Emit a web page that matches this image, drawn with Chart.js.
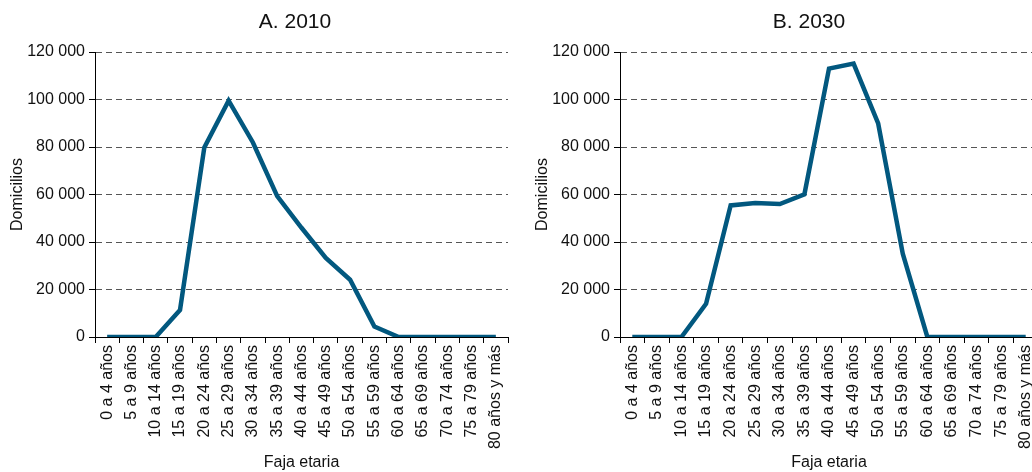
<!DOCTYPE html>
<html>
<head>
<meta charset="utf-8">
<script src="https://cdn.jsdelivr.net/npm/chart.js@4/dist/chart.umd.min.js"></script>
<style>
  html, body { margin: 0; padding: 0; background: #fff; overflow: hidden; }
  body { width: 1032px; height: 472px; position: relative; }
  .panel { position: absolute; top: 0; height: 472px; }
  #boxA { left: 0; width: 520px; }
  #boxB { left: 525px; width: 525px; }
</style>
</head>
<body>
<div class="panel" id="boxA"><canvas id="chartA"></canvas></div>
<div class="panel" id="boxB"><canvas id="chartB"></canvas></div>
<script>
// Data
const ageGroups = ['0 a 4 años', '5 a 9 años', '10 a 14 años', '15 a 19 años', '20 a 24 años',
    '25 a 29 años', '30 a 34 años', '35 a 39 años', '40 a 44 años', '45 a 49 años',
    '50 a 54 años', '55 a 59 años', '60 a 64 años', '65 a 69 años', '70 a 74 años',
    '75 a 79 años', '80 años y más'];
const homes2010 = [0, 0, 0, 11400, 79800, 99500, 81900, 59300, 46000, 33300, 24100, 4400, 0, 0, 0, 0, 0];
const homes2030 = [0, 0, 0, 14000, 55400, 56400, 56000, 60100, 113000, 115100, 89900, 35100, 0, 0, 0, 0, 0];
const yTicks = [0, 20000, 40000, 60000, 80000, 100000, 120000];
const titleA = 'A. 2010';
const titleB = 'B. 2030';

const FONT = 'Liberation Sans, Arial, sans-serif';
const LINE_COLOR = '#02587f';

Chart.defaults.font.family = FONT;
Chart.defaults.color = '#111';

// draws the panel title at a given x
const panelTitle = {
    id: 'panelTitle',
    afterDraw(chart, args, opts) {
        const ctx = chart.ctx;
        ctx.save();
        ctx.font = '21px ' + FONT;
        ctx.fillStyle = '#111';
        ctx.textAlign = 'center';
        ctx.textBaseline = 'middle';
        ctx.fillText(opts.text, opts.x, opts.y);
        ctx.restore();
    }
};

function fmt(v) {
    return String(v).replace(/\B(?=(\d{3})+(?!\d))/g, ' ');
}

function makeChart(id, values, title, titleX) {
    const ctx = document.getElementById(id).getContext('2d');
    return new Chart(ctx, {
        type: 'line',
        data: {
            labels: ageGroups,
            datasets: [{
                data: values,
                borderColor: LINE_COLOR,
                borderWidth: 4.5,
                borderJoinStyle: 'miter',
                pointRadius: 0,
                tension: 0,
                fill: false
            }]
        },
        options: {
            responsive: true,
            maintainAspectRatio: false,
            animation: false,
            layout: { padding: { top: 52, right: 12, left: 0, bottom: 0 } },
            plugins: {
                legend: { display: false },
                tooltip: { enabled: false },
                panelTitle: { text: title, x: titleX, y: 22 }
            },
            scales: {
                x: {
                    offset: true,
                    grid: {
                        offset: true,
                        drawOnChartArea: false,
                        drawTicks: true,
                        tickLength: 6,
                        tickColor: '#000',
                        color: '#000'
                    },
                    border: { display: true, color: '#000', width: 1 },
                    ticks: {
                        autoSkip: false,
                        maxRotation: 90,
                        minRotation: 90,
                        padding: 2,
                        font: { size: 16 },
                        color: '#111'
                    },
                    title: {
                        display: true,
                        text: 'Faja etaria',
                        font: { size: 16 },
                        color: '#111',
                        padding: { top: 0, bottom: 0 }
                    },
                    afterFit(scale) { scale.height = 135; }
                },
                y: {
                    min: 0,
                    max: 120000,
                    afterBuildTicks(scale) { scale.ticks = yTicks.map(v => ({ value: v })); },
                    grid: {
                        color: ctx => ctx.tick && ctx.tick.value === 0 ? 'rgba(0,0,0,0)' : '#555',
                        lineWidth: 1,
                        drawTicks: true,
                        tickLength: 6,
                        tickColor: '#000'
                    },
                    border: { display: true, color: '#000', width: 1, dash: [6, 4] },
                    ticks: {
                        padding: 4,
                        font: { size: 16 },
                        color: '#111',
                        callback: v => fmt(v)
                    },
                    title: {
                        display: true,
                        text: 'Domicilios',
                        font: { size: 16 },
                        color: '#111',
                        padding: { top: 8, bottom: 0 }
                    },
                    afterFit(scale) { scale.width = 95; }
                }
            }
        },
        plugins: [panelTitle]
    });
}

makeChart('chartA', homes2010, titleA, 295);
makeChart('chartB', homes2030, titleB, 284);
</script>
</body>
</html>
